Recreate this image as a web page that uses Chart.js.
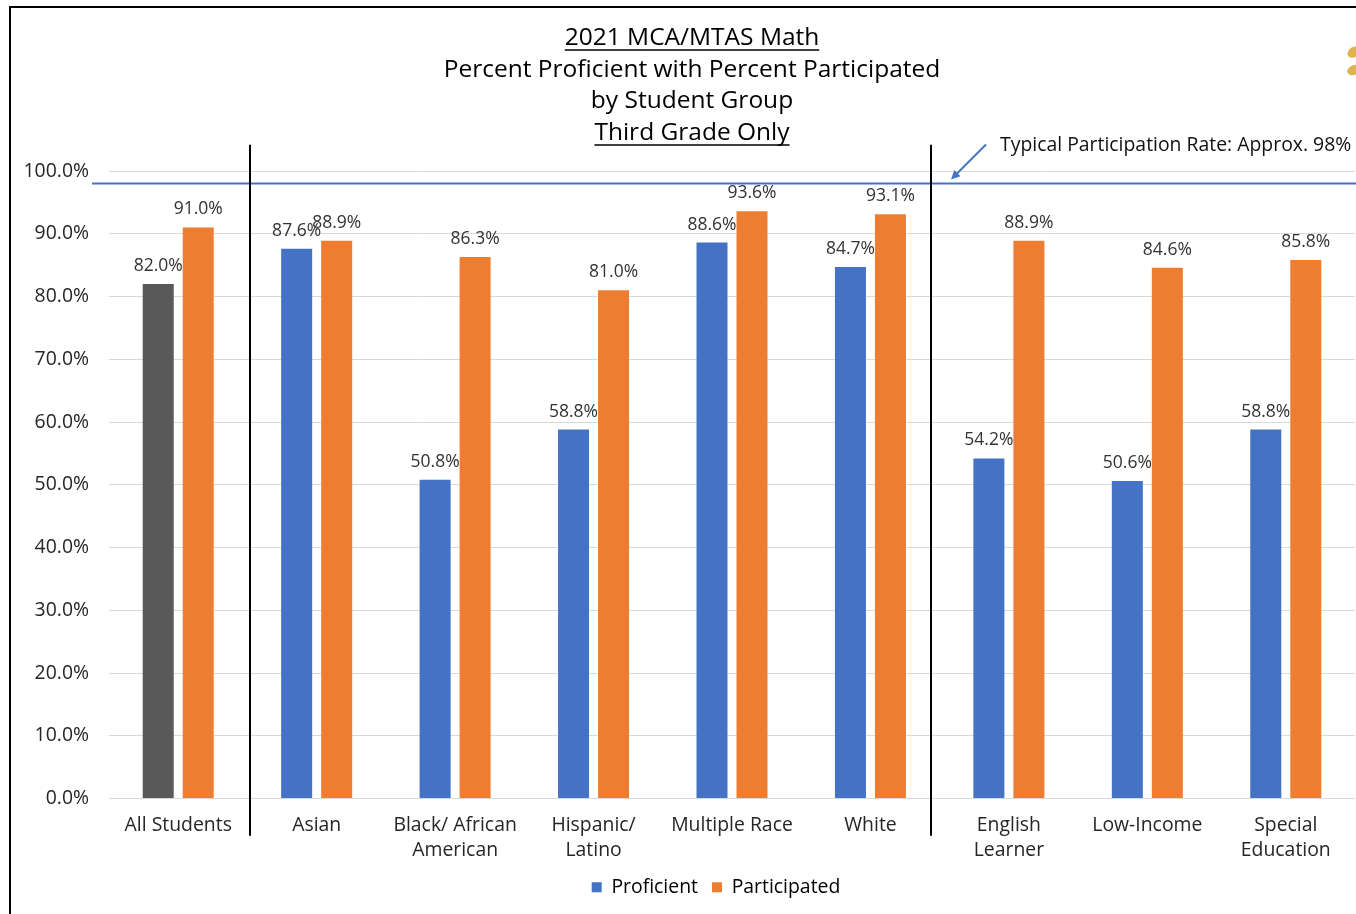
<!DOCTYPE html>
<html><head><meta charset="utf-8">
<script src="https://cdn.jsdelivr.net/npm/chart.js@4.4.1/dist/chart.umd.min.js"></script>
<style>html,body{margin:0;padding:0;background:#fff;overflow:hidden}#wrap{position:absolute;left:0;top:0;width:1356px;height:914px}</style>
</head><body><div id="wrap"><canvas id="c"></canvas></div>
<script>
const categories = [["All Students"],["Asian"],["Black/ African","American"],["Hispanic/","Latino"],["Multiple Race"],["White"],["English","Learner"],["Low-Income"],["Special","Education"]];
const proficient = [82.0, 87.6, 50.8, 58.8, 88.6, 84.7, 54.2, 50.6, 58.8];
const participated = [91.0, 88.9, 86.3, 81.0, 93.6, 93.1, 88.9, 84.6, 85.8];
const seriesNames = ["Proficient", "Participated"];
const yMin = 0, yMax = 100, yStep = 10;
const titleLines = ["2021 MCA/MTAS Math", "Percent Proficient with Percent Participated", "by Student Group", "Third Grade Only"];
const titleUnderlined = [true, false, false, true];
const typicalRate = 98;
const typicalLabel = "Typical Participation Rate: Approx. 98%";
const dividerPositions = [0.52, 5.44];

const BLUE = '#4472C4', ORANGE = '#ED7D31', GRAY = '#595959';
const FONT = "'Open Sans', 'Noto Sans', sans-serif";
const TXT = '#262626';

const overlay = {
  id: 'overlay',
  afterLayout(chart) {
    const lg = chart.legend;
    if (lg) {
      const shift = 716 - (lg.left + lg.right) / 2;
      lg.left += shift; lg.right += shift;
    }
  },
  beforeDraw(chart) {
    const c = chart.ctx;
    c.save();
    c.fillStyle = '#fff';
    c.fillRect(0, 0, chart.width, chart.height);
    c.strokeStyle = '#000'; c.lineWidth = 2;
    c.beginPath(); c.moveTo(10, chart.height); c.lineTo(10, 7); c.lineTo(chart.width, 7); c.stroke();
    c.fillStyle = 'rgba(217,166,46,0.85)';
    c.beginPath(); c.ellipse(1354, 52, 7, 5, -0.6, 0, Math.PI * 2); c.fill();
    c.beginPath(); c.ellipse(1354, 70, 7, 5, -0.4, 0, Math.PI * 2); c.fill();
    c.restore();
  },
  afterDatasetsDraw(chart) {
    const c = chart.ctx, x = chart.scales.x, y = chart.scales.y;
    c.save();
    const ty = y.getPixelForValue(typicalRate);
    c.strokeStyle = BLUE; c.lineWidth = 2;
    c.beginPath(); c.moveTo(92, ty); c.lineTo(chart.width, ty); c.stroke();
    c.strokeStyle = '#000'; c.lineWidth = 2;
    dividerPositions.forEach(p => {
      const px = Math.round(x.getPixelForValue(p));
      c.beginPath(); c.moveTo(px, y.getPixelForValue(104.2)); c.lineTo(px, y.getPixelForValue(-5.9)); c.stroke();
    });
    const ax0 = 986, ay0 = ty - 39, ax1 = 951, ay1 = ty - 4;
    c.strokeStyle = BLUE; c.fillStyle = BLUE; c.lineWidth = 2;
    c.beginPath(); c.moveTo(ax0, ay0); c.lineTo(ax1 + 5, ay1 - 5); c.stroke();
    const ang = Math.atan2(ay1 - ay0, ax1 - ax0);
    c.beginPath(); c.moveTo(ax1, ay1);
    c.lineTo(ax1 - 10 * Math.cos(ang - 0.45), ay1 - 10 * Math.sin(ang - 0.45));
    c.lineTo(ax1 - 10 * Math.cos(ang + 0.45), ay1 - 10 * Math.sin(ang + 0.45));
    c.closePath(); c.fill();
    c.fillStyle = '#111'; c.font = '19.4px ' + FONT; c.textAlign = 'left'; c.textBaseline = 'middle';
    c.fillText(typicalLabel, 1000, ty - 38);
    c.fillStyle = '#333'; c.font = '17.5px ' + FONT; c.textAlign = 'center'; c.textBaseline = 'middle';
    chart.data.datasets.forEach((ds, di) => {
      chart.getDatasetMeta(di).data.forEach((bar, i) => {
        c.fillText(ds.data[i].toFixed(1) + '%', bar.x, bar.y - 18);
      });
    });
    c.restore();
  },
  afterDraw(chart) {
    const c = chart.ctx;
    c.save();
    c.fillStyle = '#000'; c.strokeStyle = '#000'; c.lineWidth = 1.5;
    c.font = '24.5px ' + FONT; c.textAlign = 'center'; c.textBaseline = 'middle';
    const cx = 692, y0 = 38, lh = 31.7;
    titleLines.forEach((t, i) => {
      const yy = y0 + i * lh;
      c.fillText(t, cx, yy);
      if (titleUnderlined[i]) {
        const w = c.measureText(t).width;
        c.beginPath(); c.moveTo(cx - w / 2, yy + 12); c.lineTo(cx + w / 2, yy + 12); c.stroke();
      }
    });
    c.restore();
  }
};

new Chart(document.getElementById('c'), {
  type: 'bar',
  data: {
    labels: categories,
    datasets: [
      { label: seriesNames[0], data: proficient, backgroundColor: proficient.map((v, i) => i === 0 ? GRAY : BLUE), categoryPercentage: 0.578, barPercentage: 0.775 },
      { label: seriesNames[1], data: participated, backgroundColor: ORANGE, categoryPercentage: 0.578, barPercentage: 0.775 }
    ]
  },
  options: {
    responsive: true, maintainAspectRatio: false, animation: false,
    layout: { padding: { top: 171, right: 1, left: 0, bottom: 7 } },
    plugins: {
      title: { display: false },
      tooltip: { enabled: false },
      legend: {
        position: 'bottom',
        labels: {
          boxWidth: 10, boxHeight: 10, padding: 14,
          font: { family: FONT, size: 19.4 }, color: TXT,
          generateLabels: (chart) => [
            { text: seriesNames[0], fillStyle: BLUE, strokeStyle: BLUE, lineWidth: 0, datasetIndex: 0 },
            { text: seriesNames[1], fillStyle: ORANGE, strokeStyle: ORANGE, lineWidth: 0, datasetIndex: 1 }
          ]
        }
      }
    },
    scales: {
      x: {
        grid: { display: false, drawTicks: false },
        border: { display: false },
        ticks: { color: TXT, font: { family: FONT, size: 19.4, lineHeight: 1.29 }, padding: 14, maxRotation: 0, autoSkip: false },
        afterFit: s => { s.height = 65; }
      },
      y: {
        min: yMin, max: yMax,
        grid: { color: '#d9d9d9', lineWidth: 1, drawTicks: false },
        border: { display: false },
        ticks: { stepSize: yStep, color: TXT, font: { family: FONT, size: 19.4 }, padding: 20, callback: v => v.toFixed(1) + '%' },
        afterFit: s => { s.width = 109; }
      }
    }
  },
  plugins: [overlay]
});
</script></body></html>
